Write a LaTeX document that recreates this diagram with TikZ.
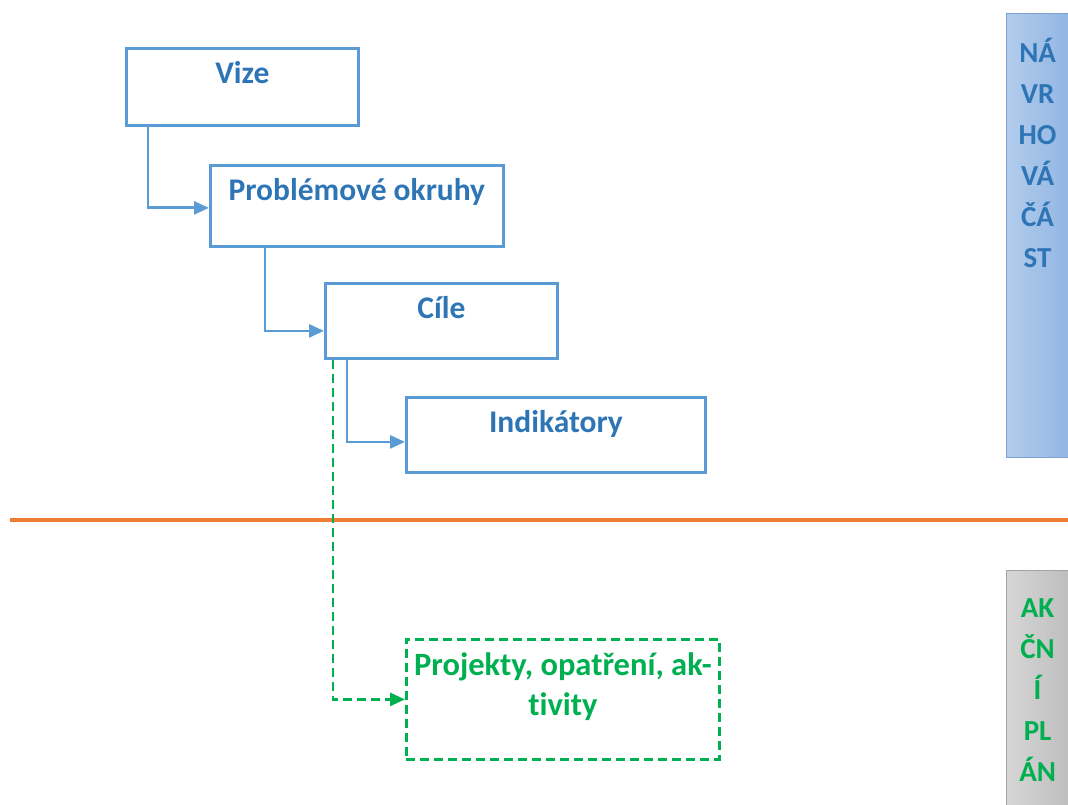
\documentclass[tikz,border=0pt]{standalone}
\usepackage{fontspec}
\setmainfont{Carlito}[Ligatures=NoCommon]
\usetikzlibrary{shapes,arrows.meta,positioning}

\definecolor{boxblue}{HTML}{5B9BD5}
\definecolor{txtblue}{HTML}{2E75B6}
\definecolor{actgreen}{HTML}{00B050}
\definecolor{splitorange}{HTML}{ED7D31}
\definecolor{barblueL}{HTML}{B2CCEC}
\definecolor{barblueR}{HTML}{92B6E3}
\definecolor{barblueD}{HTML}{7EA3D3}
\definecolor{bargrayL}{HTML}{D6D6D6}
\definecolor{bargrayR}{HTML}{BEBEBE}
\definecolor{bargrayD}{HTML}{A3A3A3}

\begin{document}
\begin{tikzpicture}[
    x=1pt, y=-1pt,
    stage/.style={
        draw=boxblue, line width=2.8pt, inner sep=0pt,
        anchor=north west, text=txtblue,
        font=\fontsize{31.5}{38}\selectfont\bfseries,
        text height=35pt
    },
    link/.style={
        draw=boxblue, line width=2.8pt,
        -{Triangle[length=15pt,width=13pt]}
    },
    actbox/.style={
        draw=actgreen, line width=2.8pt, dash pattern=on 9pt off 5pt,
        inner sep=0pt, anchor=north west, text=actgreen,
        font=\fontsize{32.5}{40}\selectfont\bfseries
    },
    actlink/.style={
        draw=actgreen, line width=2.8pt, dash pattern=on 9pt off 5pt,
        -{Triangle[length=15pt,width=13pt]}
    },
    sidebar/.style={
        inner sep=0pt, anchor=north west,
        font=\fontsize{29}{41}\selectfont\bfseries
    }
]
\useasboundingbox (0,0) rectangle (1068,805);

% Side bars
\node[sidebar, draw=barblueD, line width=1.2pt, left color=barblueL,
      right color=barblueR, text=txtblue] (design) at (1006,13)
    {\parbox[c][444pt][t]{62pt}{\centering\rule{0pt}{49pt}NÁ\\VR\\HO\\VÁ\\ČÁ\\ST}};
\node[sidebar, draw=bargrayD, line width=1.2pt, left color=bargrayL,
      right color=bargrayR, text=actgreen] (action) at (1006,570)
    {\parbox[c][240pt][t]{62pt}{\centering\rule{0pt}{47pt}AK\\ČN\\Í\\PL\\ÁN}};

% Dividing line
\draw[splitorange, line width=4pt] (10,520) -- (1068,520);

% Design part
\node[stage, minimum width=232pt, text depth=42pt] (vize) at (125,47) {Vize};
\node[stage, minimum width=293pt, text depth=46pt] (okruhy) at (209,164) {Problémové okruhy};
\node[stage, minimum width=232pt, text depth=40pt] (cile) at (324,282) {Cíle};
\node[stage, minimum width=299pt, text depth=40pt] (indik) at (405,396) {Indikátory};

% Action part
\node[actbox] (proj) at (405,638)
    {\parbox[c][120pt][t]{313pt}{\centering\rule{0pt}{36pt}\mbox{Projekty, opatření, ak-}\\tivity}};

% Connectors
\draw[link] ([xshift=23pt]vize.south west) |- ([yshift=-2pt]okruhy.west);
\draw[link] ([xshift=56pt]okruhy.south west) |- ([yshift=-10pt]cile.west);
\draw[link] ([xshift=23pt]cile.south west) |- ([yshift=-7pt]indik.west);
\draw[actlink] ([xshift=9pt]cile.south west) |- (proj.west);

\end{tikzpicture}
\end{document}
